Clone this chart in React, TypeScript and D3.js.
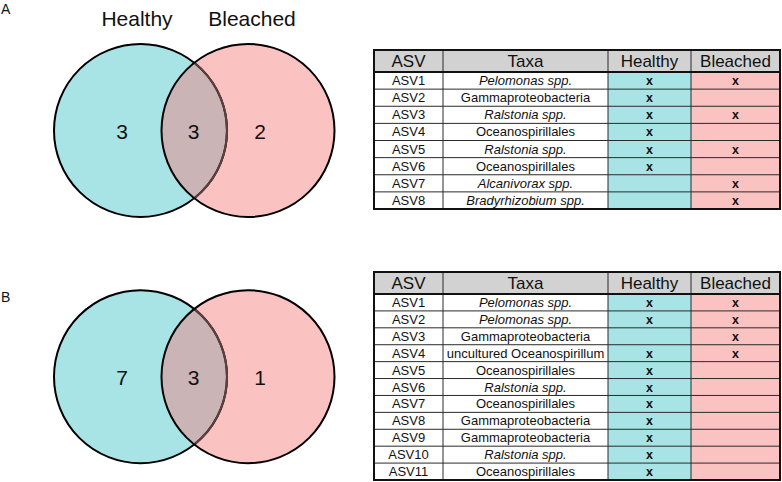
import React from "react";
import * as d3 from "d3";

// ---------- data ----------
const setNames = ["Healthy", "Bleached"];
const vennCountsA = [3, 3, 2]; // healthy only, shared, bleached only
const vennCountsB = [7, 3, 1];

const headers = ["ASV", "Taxa", "Healthy", "Bleached"];

const asvA = ["ASV1", "ASV2", "ASV3", "ASV4", "ASV5", "ASV6", "ASV7", "ASV8"];
const taxaA = [
  "Pelomonas spp.",
  "Gammaproteobacteria",
  "Ralstonia spp.",
  "Oceanospirillales",
  "Ralstonia spp.",
  "Oceanospirillales",
  "Alcanivorax spp.",
  "Bradyrhizobium spp.",
];
const healthyA = [1, 1, 1, 1, 1, 1, 0, 0];
const bleachedA = [1, 0, 1, 0, 1, 0, 1, 1];

const asvB = ["ASV1", "ASV2", "ASV3", "ASV4", "ASV5", "ASV6", "ASV7", "ASV8", "ASV9", "ASV10", "ASV11"];
const taxaB = [
  "Pelomonas spp.",
  "Pelomonas spp.",
  "Gammaproteobacteria",
  "uncultured Oceanospirillum",
  "Oceanospirillales",
  "Ralstonia spp.",
  "Oceanospirillales",
  "Gammaproteobacteria",
  "Gammaproteobacteria",
  "Ralstonia spp.",
  "Oceanospirillales",
];
const healthyB = [1, 1, 0, 1, 1, 1, 1, 1, 1, 1, 1];
const bleachedB = [1, 1, 1, 1, 0, 0, 0, 0, 0, 0, 0];

// ---------- style ----------
const FONT = "'Liberation Sans', Arial, Helvetica, sans-serif";
const CYAN = "#a8e4e6";
const PINK = "#fbc2c2";
const OVERLAP = "#cbb4b5";
const HEADER = "#d2d2d2";
const LINE = "#2a2a2a";

const colX = [374, 443, 608, 691, 780];

function Venn({ cy, counts, showTitles, id }: { cy: number; counts: number[]; showTitles: boolean; id: string }) {
  const r = 86.5;
  const cxL = 140.5;
  const cxR = 248;
  const labelX = [122, 193.5, 260];
  return (
    <g>
      <defs>
        <clipPath id={`clipR-${id}`}>
          <circle cx={cxR} cy={cy} r={r} />
        </clipPath>
      </defs>
      {showTitles && (
        <g fontFamily={FONT} fontSize={21} textAnchor="middle" fill="#111">
          <text x={137} y={26}>{setNames[0]}</text>
          <text x={252} y={26}>{setNames[1]}</text>
        </g>
      )}
      <circle cx={cxL} cy={cy} r={r} fill={CYAN} />
      <circle cx={cxR} cy={cy} r={r} fill={PINK} />
      <circle cx={cxL} cy={cy} r={r} fill={OVERLAP} clipPath={`url(#clipR-${id})`} />
      <circle cx={cxL} cy={cy} r={r} fill="none" stroke="#000" strokeWidth={2} />
      <circle cx={cxL} cy={cy} r={r} fill="none" stroke="#5e3e3f" strokeWidth={2.2} clipPath={`url(#clipR-${id})`} />
      <circle cx={cxR} cy={cy} r={r} fill="none" stroke="#000" strokeWidth={2} />
      <g fontFamily={FONT} fontSize={21} textAnchor="middle" fill="#111">
        {counts.map((c, i) => (
          <text key={i} x={labelX[i]} y={cy + 8}>{c}</text>
        ))}
      </g>
    </g>
  );
}

function Table({ top, headerBottom, bottom, asv, taxa, healthy, bleached }: {
  top: number; headerBottom: number; bottom: number; asv: string[]; taxa: string[]; healthy: number[]; bleached: number[];
}) {
  const y = d3.scaleBand<number>().domain(d3.range(asv.length)).range([headerBottom, bottom]);
  const bw = y.bandwidth();
  const cx = (i: number) => (colX[i] + colX[i + 1]) / 2;
  return (
    <g fontFamily={FONT}>
      <rect x={colX[0]} y={top} width={colX[4] - colX[0]} height={headerBottom - top} fill={HEADER} />
      <rect x={colX[2]} y={headerBottom} width={colX[3] - colX[2]} height={bottom - headerBottom} fill={CYAN} />
      <rect x={colX[3]} y={headerBottom} width={colX[4] - colX[3]} height={bottom - headerBottom} fill={PINK} />
      {d3.range(1, asv.length).map((i) => (
        <line key={`h${i}`} x1={colX[0]} x2={colX[4]} y1={y(i)!} y2={y(i)!} stroke={LINE} strokeWidth={1} />
      ))}
      {[1, 2, 3].map((j) => (
        <line key={`v${j}`} x1={colX[j]} x2={colX[j]} y1={top} y2={bottom} stroke={LINE} strokeWidth={1} />
      ))}
      <line x1={colX[0]} x2={colX[4]} y1={headerBottom} y2={headerBottom} stroke="#111" strokeWidth={2} />
      <rect x={colX[0]} y={top} width={colX[4] - colX[0]} height={bottom - top} fill="none" stroke="#111" strokeWidth={2} />
      <g fontSize={17} textAnchor="middle" fill="#111">
        {headers.map((h, i) => (
          <text key={h} x={cx(i)} y={headerBottom - 5}>{h}</text>
        ))}
      </g>
      <g fontSize={13} textAnchor="middle" fill="#111">
        {asv.map((a, i) => {
          const by = y(i)! + bw / 2 + 4.5;
          const italic = taxa[i].includes("spp.");
          return (
            <g key={a}>
              <text x={cx(0)} y={by}>{a}</text>
              <text x={cx(1)} y={by} fontStyle={italic ? "italic" : "normal"}>{taxa[i]}</text>
              {healthy[i] ? <text x={cx(2)} y={by} fontWeight="bold" fontSize={12.5}>x</text> : null}
              {bleached[i] ? <text x={cx(3)} y={by} fontWeight="bold" fontSize={12.5}>x</text> : null}
            </g>
          );
        })}
      </g>
    </g>
  );
}

export default function App() {
  return (
    <svg
      width={782}
      height={482}
      viewBox="0 0 782 482"
      style={{ position: "absolute", left: 0, top: 0, display: "block", background: "#fff" }}
    >
      <rect width={782} height={482} fill="#fff" />
      <text x={1} y={14} fontFamily={FONT} fontSize={14} fill="#111">A</text>
      <text x={1} y={302} fontFamily={FONT} fontSize={14} fill="#111">B</text>
      <Venn cy={130.5} counts={vennCountsA} showTitles={true} id="a" />
      <Venn cy={376.7} counts={vennCountsB} showTitles={false} id="b" />
      <Table top={50} headerBottom={72} bottom={209} asv={asvA} taxa={taxaA} healthy={healthyA} bleached={bleachedA} />
      <Table top={272} headerBottom={294} bottom={480} asv={asvB} taxa={taxaB} healthy={healthyB} bleached={bleachedB} />
    </svg>
  );
}
